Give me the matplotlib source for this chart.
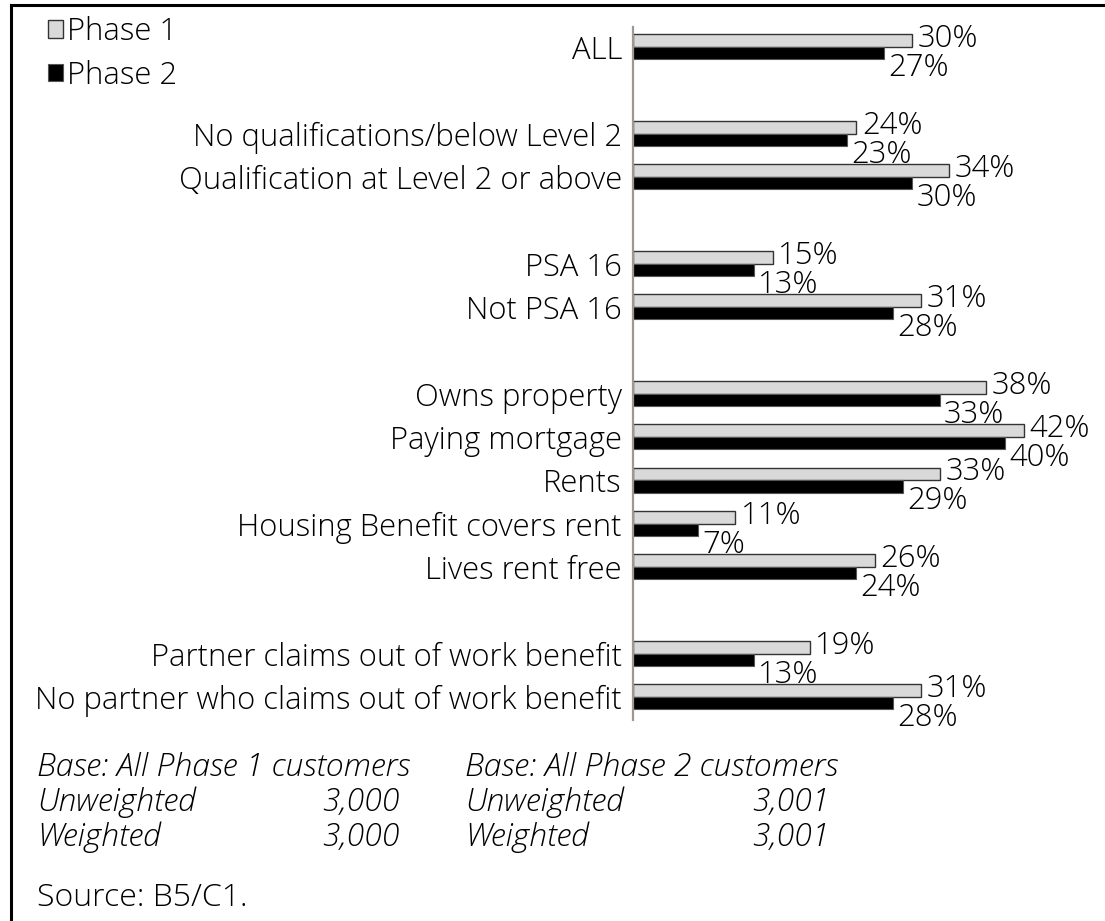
import matplotlib.pyplot as plt
from matplotlib.lines import Line2D
import numpy as np

# category groups (blank slot between groups)
groups = [
    ["ALL"],
    ["No qualifications/below Level 2", "Qualification at Level 2 or above"],
    ["PSA 16", "Not PSA 16"],
    ["Owns property", "Paying mortgage", "Rents", "Housing Benefit covers rent",
     "Lives rent free"],
    ["Partner claims out of work benefit",
     "No partner who claims out of work benefit"],
]
phase1 = [30, 24, 34, 15, 31, 38, 42, 33, 11, 26, 19, 31]
phase2 = [27, 23, 30, 13, 28, 33, 40, 29, 7, 24, 13, 28]
series_names = ["Phase 1", "Phase 2"]

base_rows = [
    ("Base: All Phase 1 customers", "Base: All Phase 2 customers"),
    ("Unweighted", "3,000", "Unweighted", "3,001"),
    ("Weighted", "3,000", "Weighted", "3,001"),
]
source = "Source: B5/C1."

plt.rcParams["font.family"] = ["Open Sans", "DejaVu Sans"]
plt.rcParams["font.weight"] = "light"
FS = 22.3
FS_NOTE = 23

W, H = 1105, 921
fig = plt.figure(figsize=(W / 100, H / 100), dpi=100)

# positions: one row per category, one empty row between groups
categories, pos = [], []
y = 0
for g in groups:
    for name in g:
        categories.append(name)
        pos.append(y)
        y += 1
    y += 1
pos = np.array(pos, dtype=float)

ax_left, ax_top, ax_bottom = 633, 27, 720
ax = fig.add_axes([ax_left / W, 1 - ax_bottom / H, 1 - ax_left / W,
                   (ax_bottom - ax_top) / H])
px_per_unit = 9.3
ax.set_xlim(0, (W - ax_left) / px_per_unit)
step = 43.33
ax.set_ylim((ax_bottom - 47) / step, -(47 - ax_top) / step)

h = 12.5 / step
b1 = ax.barh(pos - h / 2, phase1, height=h, color="#d9d9d9",
             edgecolor="#333333", linewidth=1.0, label=series_names[0])
b2 = ax.barh(pos + h / 2, phase2, height=h, color="black",
             edgecolor="#555555", linewidth=0.8, label=series_names[1])

for p, v in zip(pos, phase1):
    ax.annotate(f"{v}%", xy=(v, p - h / 2), xytext=(4, -4.5),
                textcoords="offset points", ha="left", va="baseline",
                fontsize=FS, annotation_clip=False)
for p, v in zip(pos, phase2):
    ax.annotate(f"{v}%", xy=(v, p + h / 2), xytext=(3, -16.5),
                textcoords="offset points", ha="left", va="baseline",
                fontsize=FS, annotation_clip=False)

ax.set_yticks(pos)
ax.set_yticklabels(categories, fontsize=FS)
ax.tick_params(axis="y", length=0, pad=8)
ax.set_xticks([])
for s in ["top", "right", "bottom"]:
    ax.spines[s].set_visible(False)
ax.spines["left"].set_color("#a09890")
ax.spines["left"].set_linewidth(1.6)
ax.patch.set_visible(False)

fig.legend(handles=[b1, b2], labels=series_names, loc="upper left",
           bbox_to_anchor=(48 / W, 1 - 16 / H), frameon=False, fontsize=FS,
           handlelength=0.48, handleheight=0.48, handletextpad=0.14,
           labelspacing=0.38, borderpad=0, borderaxespad=0)

# footnotes
def ftext(x, yb, s, **kw):
    fig.text(x / W, 1 - yb / H, s, fontsize=FS_NOTE, va="baseline", **kw)

ftext(37, 776, base_rows[0][0], style="italic")
ftext(465, 776, base_rows[0][1], style="italic")
for yb, row in zip([811, 846], base_rows[1:]):
    ftext(37, yb, row[0], style="italic")
    ftext(400, yb, row[1], style="italic", ha="right")
    ftext(465, yb, row[2], style="italic")
    ftext(830, yb, row[3], style="italic", ha="right")
ftext(37, 906, source)

# outer frame (left and top edges visible)
fig.add_artist(Line2D([11 / W, 11 / W], [0, 1 - 5 / H], color="black",
                      linewidth=2.2, transform=fig.transFigure))
fig.add_artist(Line2D([11 / W, 1], [1 - 5 / H, 1 - 5 / H], color="black",
                      linewidth=2.2, transform=fig.transFigure))

fig.savefig("out.png", dpi=100)
